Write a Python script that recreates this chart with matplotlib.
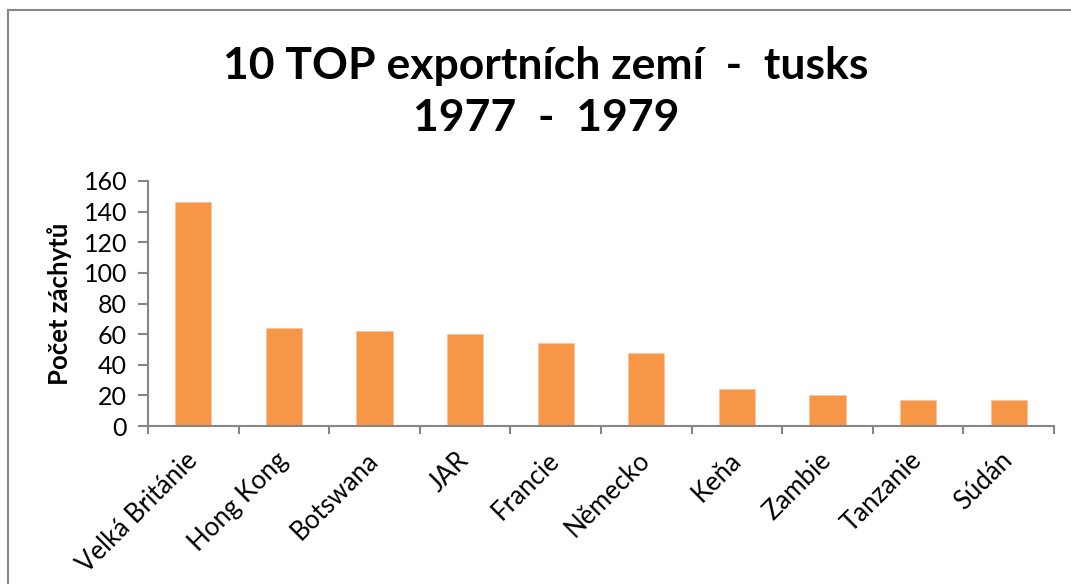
import matplotlib
matplotlib.use("Agg")
import matplotlib.pyplot as plt
from matplotlib.lines import Line2D
import numpy as np

categories = ["Velká Británie", "Hong Kong", "Botswana", "JAR", "Francie",
              "Německo", "Keňa", "Zambie", "Tanzanie", "Súdán"]
values = [146, 64, 62, 60, 54, 48, 24, 20, 17, 17]
yticks = [0, 20, 40, 60, 80, 100, 120, 140, 160]
title = "10 TOP exportních zemí  -  tusks\n1977  -  1979"
ylabel = "Počet záchytů"

plt.rcParams['font.family'] = ['Lato', 'DejaVu Sans']

W, H = 1071, 584
fig = plt.figure(figsize=(W / 100, H / 100), dpi=100)
ax = fig.add_axes([148 / W, 1 - 426 / H, (1054 - 148) / W, (426 - 181) / H])

x = np.arange(len(categories))
ax.bar(x, values, width=0.4, color="#F79646", edgecolor="#FBC79D", linewidth=0.6, zorder=2)

ax.set_xlim(-0.5, len(categories) - 0.5)
ax.set_ylim(0, 160)
ax.set_yticks(yticks)
ax.set_yticklabels([str(v) for v in yticks], fontsize=18)

# x ticks at category boundaries, labels at centers
ax.set_xticks(np.arange(-0.5, len(categories) + 0.5, 1))
ax.set_xticklabels([])
ax.set_xticks(x, minor=True)
ax.set_xticklabels(categories, minor=True, rotation=45, ha="right",
                   va="center", rotation_mode="anchor", fontsize=18.5)
ax.tick_params(axis="x", which="minor", length=0, pad=22)
ax.tick_params(axis="x", which="major", length=6, width=1.5, color="#868686")
ax.tick_params(axis="y", length=7, width=1.5, color="#868686", pad=8)

for s in ["top", "right"]:
    ax.spines[s].set_visible(False)
for s in ["left", "bottom"]:
    ax.spines[s].set_color("#868686")
    ax.spines[s].set_linewidth(1.5)

ax.set_ylabel(ylabel, fontsize=18.5, fontweight="bold", labelpad=8)

fig.text(546 / W, 1 - 92 / H, title, ha="center", va="center",
         fontsize=32, fontweight="bold", linespacing=1.35)

# outer chart border (top and left visible)
fig.add_artist(Line2D([8 / W, 1.0], [1 - 10 / H, 1 - 10 / H], color="#888888",
                      linewidth=1.5, transform=fig.transFigure))
fig.add_artist(Line2D([8 / W, 8 / W], [1 - 10 / H, 0], color="#888888",
                      linewidth=1.5, transform=fig.transFigure))

fig.savefig("out.png", dpi=100)
